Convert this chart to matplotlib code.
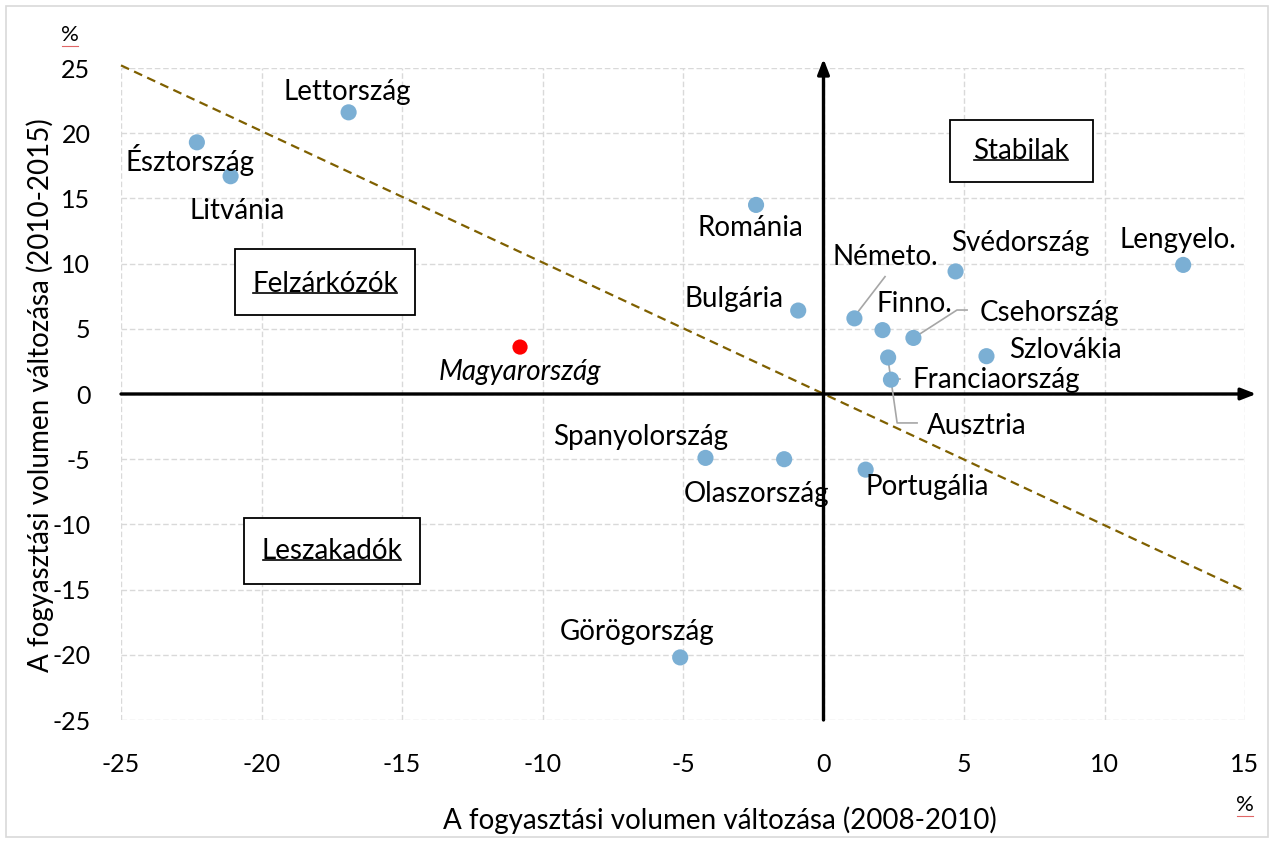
import matplotlib
matplotlib.use("Agg")
import matplotlib.pyplot as plt
from matplotlib.patches import Rectangle
from matplotlib.lines import Line2D

plt.rcParams['font.family'] = ['Lato', 'DejaVu Sans']

countries = ["Észtország", "Lettország", "Litvánia", "Románia", "Bulgária",
             "Spanyolország", "Olaszország", "Görögország", "Portugália",
             "Németo.", "Finno.", "Csehország", "Svédország", "Szlovákia",
             "Lengyelo.", "Franciaország", "Ausztria"]
x_2008_2010 = [-22.3, -16.9, -21.1, -2.4, -0.9, -4.2, -1.4, -5.1, 1.5,
               1.1, 2.1, 3.2, 4.7, 5.8, 12.8, 2.4, 2.3]
y_2010_2015 = [19.3, 21.6, 16.7, 14.5, 6.4, -4.9, -5.0, -20.2, -5.8,
               5.8, 4.9, 4.3, 9.4, 2.9, 9.9, 1.1, 2.8]
hu_name = "Magyarország"
hu_x = -10.8
hu_y = 3.6
xticks = [-25, -20, -15, -10, -5, 0, 5, 10, 15]
yticks = [25, 20, 15, 10, 5, 0, -5, -10, -15, -20, -25]
xlabel = "A fogyasztási volumen változása (2008-2010)"
ylabel = "A fogyasztási volumen változása (2010-2015)"
quadrants = ["Felzárkózók", "Leszakadók", "Stabilak"]

# label positions (text centres) for each country
label_pos = {
    "Észtország": (-22.55, 17.95), "Lettország": (-16.95, 23.15),
    "Litvánia": (-20.85, 14.0), "Románia": (-2.6, 12.75),
    "Bulgária": (-3.2, 7.3), "Spanyolország": (-6.5, -3.3),
    "Olaszország": (-2.4, -7.65), "Görögország": (-6.65, -18.25),
    "Portugália": (3.7, -7.1), "Németo.": (2.2, 10.5),
    "Finno.": (3.25, 6.9), "Csehország": (8.05, 6.2),
    "Svédország": (7.0, 11.6), "Szlovákia": (8.6, 3.35),
    "Lengyelo.": (12.6, 11.8), "Franciaország": (6.15, 1.05),
    "Ausztria": (5.45, -2.45),
}

FS = 20

fig = plt.figure(figsize=(12.74, 8.43), dpi=100)
ax = fig.add_axes([121/1274, 1-720/843, (1245-121)/1274, (720-68)/843])

ax.set_xlim(-25, 15)
ax.set_ylim(-25, 25)
ax.set_xticks(xticks)
ax.set_yticks(yticks)
ax.set_xticklabels([str(t) for t in xticks])
ax.set_yticklabels([str(t) for t in yticks])
ax.tick_params(length=0, labelsize=18)
ax.tick_params(axis='y', pad=22)
ax.tick_params(axis='x', pad=24)
for s in ax.spines.values():
    s.set_visible(False)
ax.grid(True, color='#d9d9d9', linestyle=(0, (4, 2)), linewidth=1)
ax.set_axisbelow(True)

# trend line
ax.plot([-25, 15], [25.2, -15.1], color='#7f6000', linestyle=(0, (4, 2.5)),
        linewidth=1.6, zorder=2, clip_on=False)

# axis arrows
ax.annotate("", xy=(15.4, 0), xytext=(-25, 0),
            arrowprops=dict(arrowstyle='-|>,head_length=0.9,head_width=0.35',
                            color='black', lw=2.4, shrinkA=0, shrinkB=0),
            annotation_clip=False, zorder=3)
ax.annotate("", xy=(0, 25.7), xytext=(0, -25),
            arrowprops=dict(arrowstyle='-|>,head_length=0.9,head_width=0.35',
                            color='black', lw=2.4, shrinkA=0, shrinkB=0),
            annotation_clip=False, zorder=3)

# leader lines
lc = '#a6a6a6'
ax.plot([2.19, 1.12], [9.0, 6.0], color=lc, lw=1.2, zorder=3)
ax.plot([5.11, 4.75, 3.26], [6.44, 6.44, 4.37], color=lc, lw=1.2, zorder=3)
ax.plot([2.30, 2.62, 3.33], [2.61, -2.22, -2.22], color=lc, lw=1.2, zorder=3)
ax.plot([2.4, 2.72], [1.15, 1.15], color=lc, lw=1.2, zorder=3)

# points
ax.scatter(x_2008_2010, y_2010_2015, s=135, color='#7bafd4', zorder=4,
           edgecolors='none')
ax.scatter([hu_x], [hu_y], s=120, color='#ff0000', zorder=4, edgecolors='none')

for name, xv, yv in zip(countries, x_2008_2010, y_2010_2015):
    tx, ty = label_pos[name]
    ax.text(tx, ty, name, fontsize=FS, ha='center', va='center', zorder=5)
ax.text(-10.8, 1.7, hu_name, fontsize=FS, ha='center', va='center',
        style='italic', zorder=5)

# quadrant boxes
boxes = [(-20.94, 6.06, 6.40, 5.06, -17.74, 8.44),
         (-20.62, -14.57, 6.26, 5.06, -17.49, -12.04),
         (4.5, 16.26, 5.09, 4.74, 7.03, 18.63)]
for (bx, by, bw, bh, cx, cy), lab in zip(boxes, quadrants):
    ax.add_patch(Rectangle((bx, by), bw, bh, facecolor='white',
                           edgecolor='black', lw=1.3, zorder=5))
    ax.text(cx, cy, lab, fontsize=FS, ha='center', va='center', zorder=6)

fig.canvas.draw()
r = fig.canvas.get_renderer()
inv = ax.transData.inverted()
for t in ax.texts:
    if t.get_text() in quadrants:
        bb = t.get_window_extent(renderer=r)
        (x0, y0), (x1, y1) = inv.transform([(bb.x0 + 1, bb.y0 + 4), (bb.x1 - 1, bb.y0 + 4)])
        ax.plot([x0, x1], [y0, y1], color='black', lw=1.2, zorder=6)

# axis titles
fig.text(720/1274, 1-820/843, xlabel, fontsize=FS, ha='center', va='center')
fig.text(40/1274, 1-395/843, ylabel, fontsize=FS, ha='center', va='center',
         rotation=90)

# percent signs
fig.text(70/1274, 1-35/843, "%", fontsize=16, ha='center', va='center')
fig.text(1245/1274, 1-805/843, "%", fontsize=16, ha='center', va='center')
fig.add_artist(Line2D([62/1274, 78/1274], [1-46/843, 1-46/843], color='#e06666', lw=0.8))
fig.add_artist(Line2D([1237/1274, 1253/1274], [1-816/843, 1-816/843], color='#e06666', lw=0.8))

# outer border
fig.add_artist(Rectangle((6/1274, 6/843), 1-12/1274, 1-12/843,
                         transform=fig.transFigure, fill=False,
                         edgecolor='#d9d9d9', lw=1.2))

fig.savefig("out.png", dpi=100)
